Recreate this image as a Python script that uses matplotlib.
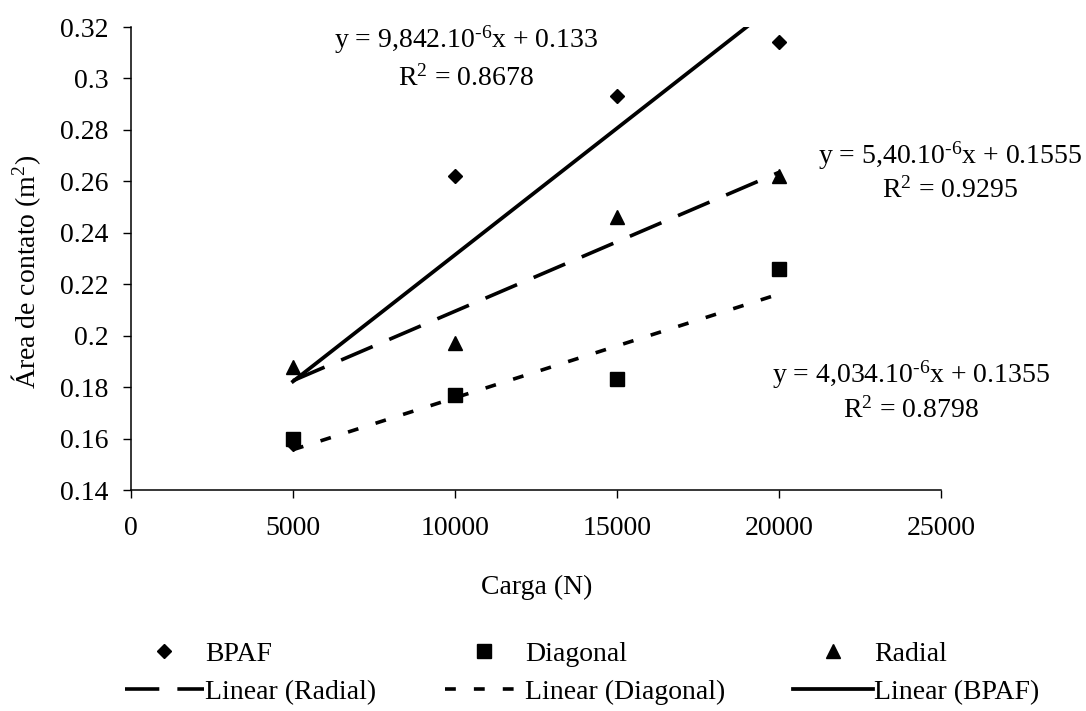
import numpy as np
import matplotlib.pyplot as plt
from matplotlib.lines import Line2D

plt.rcParams['font.family'] = ['Liberation Serif', 'DejaVu Serif']
plt.rcParams['mathtext.fontset'] = 'custom'
plt.rcParams['mathtext.rm'] = 'Liberation Serif'
plt.rcParams['mathtext.it'] = 'Liberation Serif:italic'

# Carga (N)
carga = [5000, 10000, 15000, 20000]

# Area de contato (m2) por tipo de pneu
bpaf = [0.158, 0.262, 0.293, 0.314]
diagonal = [0.160, 0.177, 0.183, 0.226]
radial = [0.188, 0.197, 0.246, 0.262]

# linhas de tendencia (coeficientes das equacoes no grafico)
slope_bpaf, icpt_bpaf = 9.842e-6, 0.133
slope_diag, icpt_diag = 4.034e-6, 0.1355
slope_rad, icpt_rad = 5.40e-6, 0.1555

eq_texts = [
    (r"y = 9,842.10$^{\text{-6}}$x + 0.133", "R$^{2}$ = 0.8678"),
    (r"y = 5,40.10$^{\text{-6}}$x + 0.1555", "R$^{2}$ = 0.9295"),
    (r"y = 4,034.10$^{\text{-6}}$x + 0.1355", "R$^{2}$ = 0.8798"),
]

W, H = 1086, 711
fig = plt.figure(figsize=(W / 100, H / 100), dpi=100)
ax = fig.add_axes([131 / W, 1 - 490 / H, 810 / W, 463 / H])

fs = 20

ax.plot(carga, bpaf, linestyle='none', marker='D', markersize=7.5, color='black', label='BPAF')
ax.plot(carga, diagonal, linestyle='none', marker='s', markersize=10, color='black', label='Diagonal')
ax.plot(carga, radial, linestyle='none', marker='^', markersize=10, color='black', label='Radial')

xl = np.array([carga[0], carga[-1]])
ax.plot(xl, slope_rad * xl + icpt_rad, color='black', lw=2.6, linestyle=(0, (9.5, 5)))
ax.plot(xl, slope_diag * xl + icpt_diag, color='black', lw=2.6, linestyle=(0, (3, 5)))
ax.plot(xl, slope_bpaf * xl + icpt_bpaf, color='black', lw=2.7, linestyle='-')

ax.set_xlim(0, 25000)
ax.set_ylim(0.14, 0.32)
ax.set_xticks(np.arange(0, 25001, 5000))
yt = np.arange(0.14, 0.3201, 0.02)
ax.set_yticks(yt)
ax.set_yticklabels(['{:g}'.format(round(v, 2)) for v in yt])
ax.tick_params(axis='x', direction='out', length=6, width=1, pad=13, labelsize=fs)
ax.tick_params(axis='y', direction='out', length=6, width=1, pad=10, labelsize=fs)
ax.spines['top'].set_visible(False)
ax.spines['right'].set_visible(False)
for s in ['left', 'bottom']:
    ax.spines[s].set_linewidth(1.1)

fig.text(26 / W, 1 - 272 / H, 'Área de contato (m$^{2}$)', rotation=90,
         ha='center', va='center', fontsize=fs)
fig.text(537 / W, 1 - 587 / H, 'Carga (N)', ha='center', va='center', fontsize=fs)

# equacoes
pos = [(466, 40, 78), (950, 156, 190), (911, 375, 410)]
for (eq, r2), (cx, y1, y2) in zip(eq_texts, pos):
    fig.text(cx / W, 1 - y1 / H, eq, ha='center', va='center', fontsize=fs)
    fig.text(cx / W, 1 - y2 / H, r2, ha='center', va='center', fontsize=fs)

# legenda
handles = [
    Line2D([], [], linestyle='none', marker='D', markersize=7.5, color='black'),
    Line2D([], [], color='black', lw=2.6, linestyle=(0, (9.5, 5))),
    Line2D([], [], linestyle='none', marker='s', markersize=10, color='black'),
    Line2D([], [], color='black', lw=2.6, linestyle=(0, (3, 5))),
    Line2D([], [], linestyle='none', marker='^', markersize=10, color='black'),
    Line2D([], [], color='black', lw=2.7, linestyle='-'),
]
labels = ['BPAF', 'Linear (Radial)', 'Diagonal', 'Linear (Diagonal)', 'Radial', 'Linear (BPAF)']
fig.legend(handles, labels, loc='center', bbox_to_anchor=(582 / W, 1 - 673 / H),
           ncol=3, frameon=False, fontsize=fs, handlelength=2.85, handletextpad=0.05,
           columnspacing=2.45, labelspacing=0.45, numpoints=1)

fig.savefig('out.png', dpi=100)
